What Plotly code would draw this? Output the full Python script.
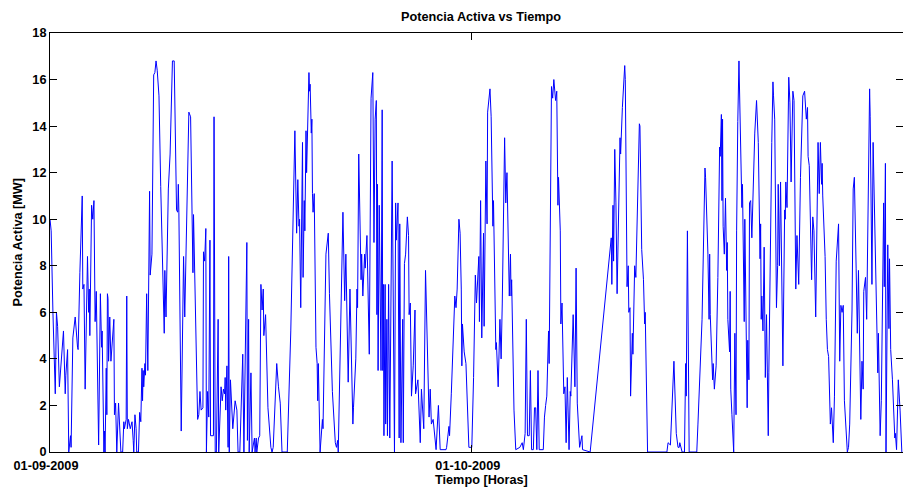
import pandas as pd
import plotly.graph_objects as go

# Hours elapsed since 2009-09-01 00:00 and active power [MW]
hours = [
    0, 2, 5, 9, 11, 13, 16, 19, 23, 26, 27, 30, 32, 35, 36, 39, 43, 47, 48, 51, 55, 56, 58, 60, 63, 64, 66, 67, 68,
    71, 73, 75, 77, 79, 83, 85, 86, 88, 89, 92, 93, 94, 96, 97, 98, 99, 100, 102, 104, 109, 110, 112, 114, 117,
    121, 124, 126, 127, 130, 131, 132, 134, 137, 140, 142, 143, 145, 147, 148, 151, 153, 155, 157, 158, 159, 160,
    162, 163, 165, 167, 170, 171, 174, 175, 177, 179, 181, 183,
    186, 189, 195, 196, 198, 202, 205, 209, 212, 216, 218, 219, 220, 224, 228, 230, 232, 233, 237, 240, 244, 245,
    252, 254, 256, 258, 261, 262, 264, 266, 267, 269, 271, 273, 274, 279, 280, 282, 284, 287, 288, 292, 294, 296,
    298, 299, 300, 302, 304, 305, 306, 308, 312, 316, 319, 321, 324, 329, 331, 336, 337, 339, 340, 343, 345, 349,
    350, 352, 353, 356, 358,
    360, 362, 364, 365, 368, 372, 377, 379, 381, 387, 390, 393, 396, 405, 411, 418, 421, 423, 425, 426, 428, 431,
    432, 434, 435, 437, 438, 442, 443, 444, 446, 447, 448, 449, 451, 454, 456, 457, 458, 461, 465, 466, 471, 475,
    477, 482, 487, 489, 491, 492, 500, 503, 505, 509, 512, 516, 517, 518, 522, 524, 525, 527, 531, 532, 534, 537,
    538, 541, 545, 548, 551, 553, 555, 557, 558, 559, 560, 562, 563,
    565, 567, 568, 569, 570, 572, 573, 575, 576, 578, 580, 584, 586, 588, 590, 591, 594, 596, 597, 599, 602, 603,
    605, 607, 610, 612, 613, 615, 617, 620, 623, 624, 628, 629, 632, 634, 638, 641, 644, 647, 649, 651, 654, 659,
    663, 666, 676, 677, 681, 682, 685, 691, 693, 695, 698, 700, 702, 703, 704, 707, 710, 715, 720, 723, 726, 728,
    732, 733, 735,
    737, 740, 741, 744, 746, 747, 751, 753, 756, 757, 761, 762, 765, 768, 770, 772, 776, 778, 780, 784, 786, 787,
    788, 792, 795, 802, 806, 808, 811, 813, 815, 818, 820, 822, 825, 827, 829, 831, 833, 835, 842, 844, 846, 848,
    851, 852, 856, 858, 860, 863, 865, 867, 868, 871, 872, 874, 877, 879, 881, 883, 886, 888, 889, 893, 896, 898,
    900, 904, 908, 909, 922,
    958, 959, 961, 962, 964, 966, 968, 969, 973, 974, 975, 977, 981, 982, 985, 987, 988, 990, 991, 994, 995, 998,
    1000, 1006, 1007, 1010, 1013, 1015, 1016, 1020, 1053, 1055, 1059, 1065, 1067, 1069, 1072, 1074, 1075, 1079,
    1083, 1085, 1086, 1088, 1091, 1104, 1106, 1111, 1113, 1118, 1119, 1123, 1125, 1126, 1127,
    1131, 1132, 1134, 1137, 1140, 1143, 1144, 1146, 1147, 1148, 1149, 1151, 1153, 1155, 1156, 1157, 1160, 1161,
    1162, 1164, 1167, 1169, 1171, 1172, 1173, 1174, 1176, 1180, 1181, 1182, 1183, 1185, 1186, 1188, 1190, 1191,
    1193, 1194, 1196, 1198, 1203, 1206, 1209, 1212, 1213, 1214, 1215, 1217, 1219, 1221, 1223, 1226, 1227, 1232,
    1234, 1235, 1237, 1240, 1242, 1243, 1245, 1247, 1251, 1254, 1255, 1256, 1258, 1261, 1263, 1265, 1268, 1270,
    1273, 1275, 1278, 1281, 1285, 1288, 1291, 1293, 1294, 1296, 1298, 1300, 1302, 1304, 1307, 1311, 1313, 1315,
    1317, 1318, 1319,
    1323, 1325, 1327, 1329, 1332, 1334, 1337, 1339, 1342, 1346, 1348, 1350, 1352, 1354, 1356, 1361, 1363, 1365,
    1369, 1371, 1373, 1376, 1378, 1380, 1384, 1386, 1388, 1389, 1392, 1394, 1399, 1400, 1403, 1405, 1410, 1413,
    1414, 1417, 1419, 1423, 1424, 1426, 1427, 1429, 1430, 1432, 1433, 1435, 1438, 1442, 1443, 1445, 1448, 1451,
    1454,
]

power_mw = [
    10.0, 9.5, 6.0, 2.5, 6.0, 5.4, 2.8, 3.8, 5.2, 2.5, 3.3, 4.4, 0.0, 0.7, 0.2, 4.9, 5.8, 4.5, 4.4, 7.7, 11.0, 7.0,
    7.2, 2.7, 6.6, 8.4, 6.0, 7.0, 5.0,
    10.6, 10.0, 10.8, 5.6, 6.9, 0.3, 6.5, 6.8, 4.5, 5.2, 0.0, 0.9, 0.0, 3.6, 1.6, 6.8, 6.6, 3.9, 5.8, 3.9, 5.7, 1.6,
    2.1, 0.0, 2.1,
    0.0, 0.0, 1.3, 1.0, 1.4, 6.7, 1.0, 1.4, 1.0, 1.3, 0.5, 0.0, 1.6, 1.0, 0.0, 0.0, 1.7, 1.3, 3.6, 2.2, 3.5, 2.8,
    3.8, 3.3, 6.8, 3.5, 11.2, 7.6, 8.5, 12.0, 16.2, 16.3, 16.8, 16.4,
    15.3, 11.4, 5.1, 7.8, 5.8, 11.3, 12.8, 16.8, 16.8, 10.4, 10.3, 11.5, 10.3, 0.9, 8.4, 5.8, 8.4, 10.5, 14.6,
    14.4, 7.7, 10.2,
    1.4, 1.6, 2.6, 1.8, 1.9, 8.6, 8.2, 9.6, 0.0, 2.6, 1.5, 9.1, 0.7, 0.7, 14.4, 0.0, 0.0, 5.7, 0.0, 2.8, 2.2, 2.7,
    2.5, 3.2, 1.8, 3.7, 0.2, 8.4, 0.0, 3.1, 1.0, 2.2, 1.8, 0.0, 0.0, 4.2, 0.0, 9.0, 0.5, 5.7, 0.0, 3.4, 0.0, 0.6,
    0.0, 0.6, 0.0, 0.6, 0.7,
    7.2, 6.1, 7.0, 5.0, 5.9, 1.9, 0.2, 0.0, 0.2, 3.8, 2.8, 2.1, 0.0, 0.0, 5.2, 13.8, 9.4, 11.7, 9.7, 10.0, 6.2, 13.3,
    7.5, 10.8, 9.5, 13.8, 12.0, 16.3, 15.5, 15.8, 13.7, 14.3, 11.1, 10.3, 11.1, 4.5, 3.8, 2.2, 3.8, 0.0, 1.4, 1.0,
    8.5, 9.4,
    6.8, 2.6, 0.4, 0.2, 0.5, 0.0, 10.3, 6.5, 8.5, 3.0, 7.0, 1.9, 1.2, 1.9, 4.0, 7.0, 6.2, 12.8, 7.4, 8.5, 6.7, 8.5,
    7.9, 9.3, 4.2, 15.2, 16.3, 9.0, 14.3, 15.1, 5.9, 11.5, 3.5, 10.6, 8.0,
    3.5, 14.7, 3.5, 7.2, 0.7, 7.2, 1.2, 5.7, 0.7, 7.2, 0.6, 12.5, 7.1, 0.0, 10.7, 9.1, 10.7, 0.6, 9.8, 0.4, 5.7, 0.4,
    8.1, 8.5, 10.1, 9.3, 5.9, 6.4, 2.4, 3.7, 6.1, 2.5, 3.1, 2.4, 0.4, 2.7, 1.0, 7.8, 4.2, 1.5, 2.7, 1.2, 1.4, 0.1,
    2.0, 0.1, 0.1, 0.2, 1.1, 0.7, 2.5, 6.7, 6.2, 7.0, 10.0, 9.4, 7.0, 3.7, 5.5, 4.3, 3.8, 0.2, 0.2, 3.2, 7.6, 6.4,
    8.4, 5.6, 10.8,
    4.9, 9.4, 5.4, 12.5, 9.8, 14.6, 15.6, 14.4, 9.7, 10.8, 4.4, 4.7, 2.8, 5.7, 4.0, 6.4, 13.5, 10.7, 12.0, 6.7, 8.5,
    6.7, 7.4, 1.8, 0.1, 0.2, 0.4, 0.1, 0.8, 5.7, 0.7, 0.7, 3.5, 0.1, 0.1, 1.9, 1.9, 0.1, 3.5, 0.1, 0.1, 1.5, 2.0,
    2.4, 5.2, 3.8, 15.7, 15.2, 16.0, 15.1, 15.5, 10.6, 11.8, 9.5, 5.5, 6.4, 2.5, 2.8, 0.4, 3.2, 0.1, 2.6, 2.4, 5.9,
    2.8, 7.9, 2.1, 0.2, 0.7, 0.1, 0.0,
    9.2, 7.2, 10.6, 8.2, 13.0, 10.7, 6.8, 8.5, 13.5, 12.8, 13.6, 14.8, 16.6, 16.0, 7.1, 8.0, 6.0, 6.2, 2.4, 5.1,
    4.2, 8.0, 7.5, 14.1, 14.0, 8.7, 7.4, 5.5, 6.0, 0.0, 0.0, 0.4, 0.3, 3.9, 2.4, 0.8, 0.2, 0.2, 0.4, 0.0,
    0.0, 3.8, 2.4, 9.5, 0.0, 0.0, 1.2, 5.0, 5.7, 12.2, 11.8, 8.5, 5.7, 8.5, 5.9,
    3.1, 3.8, 2.7, 3.7, 7.5, 13.1, 12.7, 14.5, 10.8, 14.3, 9.7, 8.5, 10.9, 7.8, 9.0, 5.7, 4.3, 6.9,
    2.7, 1.6, 0.0, 5.1, 1.6, 9.5, 13.9, 14.2, 16.8, 12.4, 10.5, 11.5, 8.4, 5.6, 10.0, 4.4, 1.9, 4.8,
    3.1, 10.7, 10.8, 9.2, 13.7, 15.1, 13.3, 8.3, 9.8, 5.7, 6.7, 5.2, 8.8, 3.2, 5.9, 0.7, 3.4, 13.3,
    15.9, 15.3, 14.3, 6.2, 8.0, 11.5, 8.0, 11.6, 3.7, 10.4, 10.0, 11.6, 10.5, 16.1, 15.0, 11.6, 15.5, 15.1,
    7.0, 9.3, 7.2, 11.8, 15.3, 15.5, 14.3, 14.8, 12.7, 12.3, 9.7, 7.4, 10.1, 9.5, 5.8, 13.3, 11.1, 13.3,
    11.5, 12.4, 11.0,
    8.4, 5.7, 4.4, 4.1, 1.2, 1.9, 0.4, 2.4, 8.2, 9.8, 3.9, 6.3, 6.0, 6.3, 2.2, 0.0, 0.2, 1.2,
    6.1, 11.3, 11.8, 7.9, 5.1, 7.8, 1.4, 3.9, 2.7, 6.9, 7.5, 5.7, 15.6, 14.4, 7.2, 13.3, 7.8, 3.4,
    5.1, 0.7, 2.2, 10.7, 7.1, 12.4, 0.0, 5.4, 8.9, 5.3, 8.3, 4.4, 3.1, 0.6, 0.8, 0.1, 3.1, 1.8,
    0.0,
]

start = pd.Timestamp("2009-09-01 00:00")
times = start + pd.to_timedelta(hours, unit="h")
tick_dates = ["2009-09-01", "2009-10-01"]
x_end = start + pd.Timedelta(hours=1456)

W, H = 903, 487
L, R, T, B = 50, 0, 33, 35
pw, ph = W - L - R, H - T - B

font = dict(family="Liberation Sans, Arial, sans-serif", size=12.7, color="black", weight="bold")

fig = go.Figure()
fig.add_trace(go.Scatter(x=times, y=power_mw, mode="lines",
                         line=dict(color="#0000ff", width=1), showlegend=False,
                         hoverinfo="skip"))

fig.update_layout(
    width=W, height=H,
    margin=dict(l=L, r=R, t=T, b=B, pad=0),
    paper_bgcolor="white", plot_bgcolor="white",
    font=font,
    title=dict(text="Potencia Activa vs Tiempo", x=481 / W, xanchor="center",
               y=1 - 17 / H, yanchor="middle", font=font),
    xaxis=dict(type="date", range=[start, x_end], tickvals=tick_dates,
               tickformat="%d-%m-%Y", ticks="inside", ticklen=7, tickcolor="black",
               ticklabelshift=-4, ticklabelstandoff=2,
               showline=True, linecolor="black", linewidth=1, mirror="ticks",
               showgrid=False, zeroline=False, tickfont=font),
    yaxis=dict(range=[0, 18], dtick=2, tick0=0, ticks="inside", ticklen=7, tickcolor="black",
               showline=True, linecolor="black", linewidth=1, mirror="ticks",
               showgrid=False, zeroline=False, tickfont=font),
    annotations=[
        dict(text="Tiempo [Horas]", xref="paper", yref="paper",
             x=(482 - L) / pw, y=-(480 - (T + ph)) / ph, xanchor="center", yanchor="middle",
             showarrow=False, font=font),
        dict(text="Potencia Activa [MW]", xref="paper", yref="paper", textangle=-90,
             x=(17 - L) / pw, y=0.5, xanchor="center", yanchor="middle",
             showarrow=False, font=font),
    ],
)

fig.write_html("out.html")
